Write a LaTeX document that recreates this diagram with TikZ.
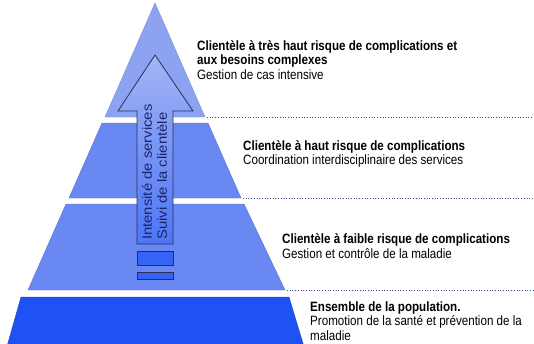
\documentclass[tikz,border=0pt]{standalone}
\usepackage{fontspec}
\setmainfont{Liberation Sans}
\newfontfamily\narrowfont[FakeStretch=0.86]{Liberation Sans}
\newfontfamily\widefont[FakeStretch=1.1]{Liberation Sans}
\usetikzlibrary{positioning}

\definecolor{tiertop}{HTML}{8DA3F2}
\definecolor{tiermid}{HTML}{6A88F2}
\definecolor{tierbase}{HTML}{1F52F5}
\definecolor{arrowedge}{HTML}{2A2F5A}
\definecolor{dotline}{HTML}{3E4C9C}
\definecolor{arrowtext}{HTML}{1C2466}

\begin{document}
\begin{tikzpicture}[x=1pt,y=-1pt,
	tier/.style={fill=#1,draw=#1!85!black,line width=0.4pt},
	level/.style={dotted,dotline,line width=0.7pt},
	label/.style={anchor=base west,inner sep=0pt,align=left,font=\narrowfont\fontsize{13.5}{14.5}\selectfont},
	flow/.style={rotate=90,anchor=west,inner sep=0pt,align=left,text=arrowtext,font=\widefont\fontsize{13.5}{15}\selectfont},
	arrowbody/.style={draw=arrowedge,line width=0.8pt,top color=tiertop!80!white,bottom color=tierbase!80!white},
	gap/.style={draw=arrowedge,line width=0.8pt,fill=tierbase!90!white}]
	\useasboundingbox (0,0) rectangle (534,343);
	\clip (0,0) rectangle (534,343);

	% pyramid tiers
	\coordinate (apex) at (155,3);
	\coordinate (t1r) at (205,117);
	\coordinate (t2r) at (241,198);
	\coordinate (t3r) at (285,290);
	\draw[tier=tiertop] (apex) -- (t1r) -- (105,117) -- cycle;
	\draw[tier=tiermid] (102,123) -- (208,123) -- (t2r) -- (69,198) -- cycle;
	\draw[tier=tiermid] (66,204) -- (244,204) -- (t3r) -- (28,290) -- cycle;
	\draw[tier=tierbase] (21,297) -- (289,297) -- (305,350) -- (6,350) -- cycle;

	% dotted level lines
	\coordinate (e1) at (534,117);
	\coordinate (e2) at (534,198);
	\coordinate (e3) at (534,290);
	\draw[level] ([xshift=2pt]t1r) -- (e1);
	\draw[level] ([xshift=2pt]t2r) -- (e2);
	\draw[level] ([xshift=2pt]t3r) -- (e3);

	% arrow
	\draw[arrowbody] (137,244) -- (137,111) -- (118,111) -- (155,55) -- (193,111) -- (173,111) -- (173,244) -- cycle;
	\draw[gap] (137,251) rectangle (173,265);
	\draw[gap] (137,272) rectangle (173,279);
	\node[flow] (intens) at (154.5,240) {Intensité de services\\Suivi de la clientèle};

	% labels
	\node[label] (crit1) at (197,79) {{\bfseries Clientèle à très haut risque de complications et}\\{\bfseries aux besoins complexes}\\Gestion de cas intensive};
	\node[label] (crit2) at (243,164.5) {{\bfseries Clientèle à haut risque de complications}\\Coordination interdisciplinaire des services};
	\node[label] (crit3) at (282,258) {{\bfseries Clientèle à faible risque de complications}\\Gestion et contrôle de la maladie};
	\node[label] (crit4) at (310,340) {{\bfseries Ensemble de la population.}\\Promotion de la santé et prévention de la\\maladie};
\end{tikzpicture}
\end{document}
